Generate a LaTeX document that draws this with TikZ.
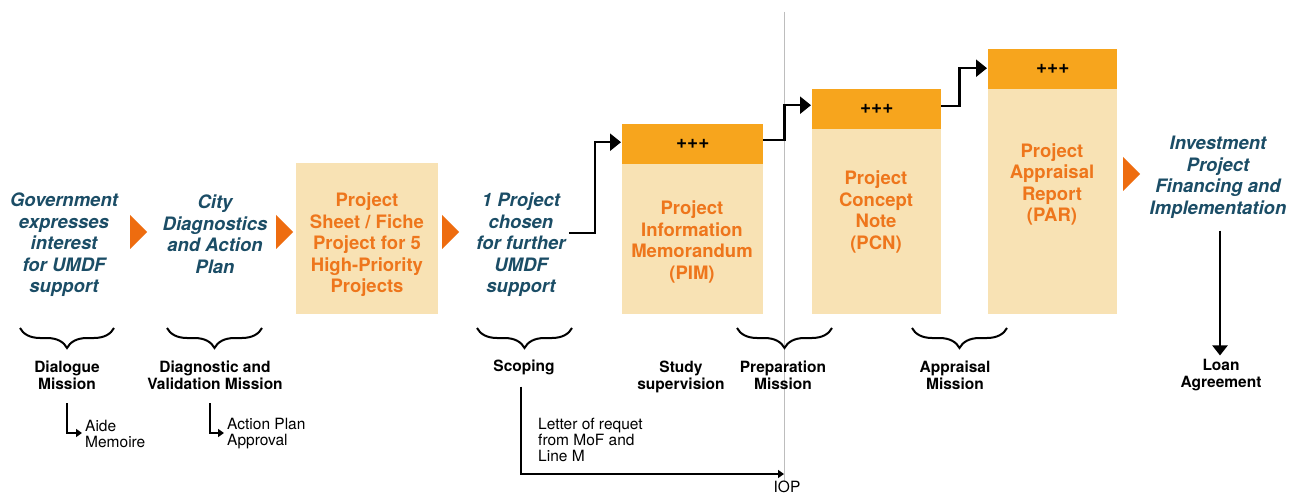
\documentclass[tikz,border=0pt]{standalone}
\usepackage{fontspec}
\setmainfont{TeX Gyre Heros}
\usetikzlibrary{arrows.meta,decorations.pathreplacing}

\definecolor{stagetext}{HTML}{1B4D66}
\definecolor{boxtextcol}{HTML}{EE761C}
\definecolor{boxfill}{HTML}{F8E2B4}
\definecolor{headfill}{HTML}{F7A51D}
\definecolor{chevron}{HTML}{EE6C0F}
\definecolor{guide}{HTML}{BDBDBD}

\tikzset{
  stage/.style={font=\bfseries\itshape\fontsize{18.5}{21.5}\selectfont, text=stagetext, align=center, inner sep=0pt},
  boxlabel/.style={font=\bfseries\fontsize{18.5}{21.5}\selectfont, text=boxtextcol, align=center, inner sep=0pt},
  body/.style={fill=boxfill, draw=none, inner sep=0pt, anchor=north west},
  head/.style={fill=headfill, draw=none, inner sep=0pt, anchor=north west, font=\bfseries\fontsize{19}{20}\selectfont},
  mission/.style={font=\bfseries\fontsize{15.5}{17}\selectfont, align=center, inner sep=0pt},
  note/.style={font=\fontsize{15.5}{16}\selectfont, align=left, inner sep=0pt},
  flow/.style={line width=2.5pt, -{Triangle[length=11pt,width=17pt]}},
  smallflow/.style={line width=1.8pt, -{Triangle[length=6pt,width=8pt]}},
  downflow/.style={line width=2.2pt, -{Triangle[length=10pt,width=15pt]}},
  chev/.style={fill=chevron, draw=none},
  undercurl/.style={decorate, decoration={brace, amplitude=20pt, mirror}, line width=2pt},
}

\begin{document}
\begin{tikzpicture}[x=1pt,y=-1pt]
\useasboundingbox (0,0) rectangle (1301,494);
\fill[white] (0,0) rectangle (1301,494);

% gate line between preparation and appraisal
\draw[guide, line width=1pt] (784,12) -- (784,482);

% stages
\node[stage] (gov) at (64,245) {Government\\expresses\\interest\\for UMDF\\support};
\fill[chev] (130,215) -- (147,232) -- (130,249) -- cycle;
\node[stage] (city) at (215,234) {City\\Diagnostics\\and Action\\Plan};
\fill[chev] (276,215) -- (293,232) -- (276,249) -- cycle;

\node[body, minimum width=142pt, minimum height=151pt] (sheet) at (296,163) {};
\node[boxlabel] (sheettext) at (367,245) {Project\\Sheet / Fiche\\Project for 5\\High-Priority\\Projects};
\fill[chev] (442,215) -- (459,232) -- (442,249) -- cycle;

\node[stage] (chosen) at (521,245) {1 Project\\chosen\\for further\\UMDF\\support};

% PIM
\node[body, minimum width=141pt, minimum height=150pt] (pimbody) at (622,164) {};
\node[head, minimum width=141pt, minimum height=40pt] (pimhead) at (622,124) {+++};
\node[boxlabel] (pimtext) at (692,242) {Project\\Information\\Memorandum\\(PIM)};

% PCN
\node[body, minimum width=129pt, minimum height=185pt] (pcnbody) at (812,129) {};
\node[head, minimum width=129pt, minimum height=40pt] (pcnhead) at (812,89) {+++};
\node[boxlabel] (pcntext) at (876,212) {Project\\Concept\\Note\\(PCN)};

% PAR
\node[body, minimum width=129pt, minimum height=225pt] (parbody) at (988,89) {};
\node[head, minimum width=129pt, minimum height=40pt] (parhead) at (988,49) {+++};
\node[boxlabel] (partext) at (1052,184.5) {Project\\Appraisal\\Report\\(PAR)};

\fill[chev] (1123,157) -- (1140,174) -- (1123,191) -- cycle;
\node[stage] (invest) at (1218,177.5) {Investment\\Project\\Financing and\\Implementation};

% step connectors
\draw[flow] ([xshift=3pt,yshift=12pt]chosen.east) -- ++(26,0) |- ([xshift=-1pt,yshift=2pt]pimhead.west);
\draw[flow] ([yshift=4pt]pimhead.east) -- ++(21,0) |- ([xshift=-1pt,yshift=4pt]pcnhead.west);
\draw[flow] ([yshift=3pt]pcnhead.east) -- ++(18,0) |- ([xshift=-1pt,yshift=1pt]parhead.west);

% missions
\draw[undercurl] (20,328) -- (114,328);
\draw[undercurl] (167,328) -- (262,328);
\draw[undercurl] (477,328) -- (572,328);
\draw[undercurl] (737,328) -- (832,328);
\draw[undercurl] (912,328) -- (1007,328);

\node[mission] (dialogue) at (67,375.5) {Dialogue\\Mission};
\node[mission] (diag) at (215,375.5) {Diagnostic and\\Validation Mission};
\node[mission] (scoping) at (524,367) {Scoping};
\node[mission] (study) at (681,376.5) {Study\\supervision};
\node[mission] (prep) at (783,375.5) {Preparation\\Mission};
\node[mission] (appr) at (955,375.5) {Appraisal\\Mission};
\node[mission] (loan) at (1221,375.5) {Loan\\Agreement};

\draw[downflow] ([xshift=2pt,yshift=-12pt]invest.south) -- ([xshift=-1pt,yshift=4pt]loan.north);

% outputs
\node[note, anchor=west] (aide) at (85,434) {Aide\\Memoire};
\node[note, anchor=west] (approval) at (227,434) {Action Plan\\Approval};
\draw[smallflow] ([xshift=0pt,yshift=-13pt]dialogue.south) |- ([xshift=-3pt,yshift=1pt]aide.west);
\draw[smallflow] ([xshift=-5pt,yshift=-13pt]diag.south) |- ([xshift=-3pt,yshift=1pt]approval.west);

\node[note, anchor=west] (letter) at (538,440) {Letter of requet\\from MoF and\\Line M};
\coordinate (iopmark) at (784,474);
\node[font=\fontsize{15.5}{16}\selectfont, inner sep=0pt] (iop) at (787,487) {IOP};
\draw[smallflow] ([xshift=-3pt,yshift=-12pt]scoping.south) |- (iopmark);
\end{tikzpicture}
\end{document}
